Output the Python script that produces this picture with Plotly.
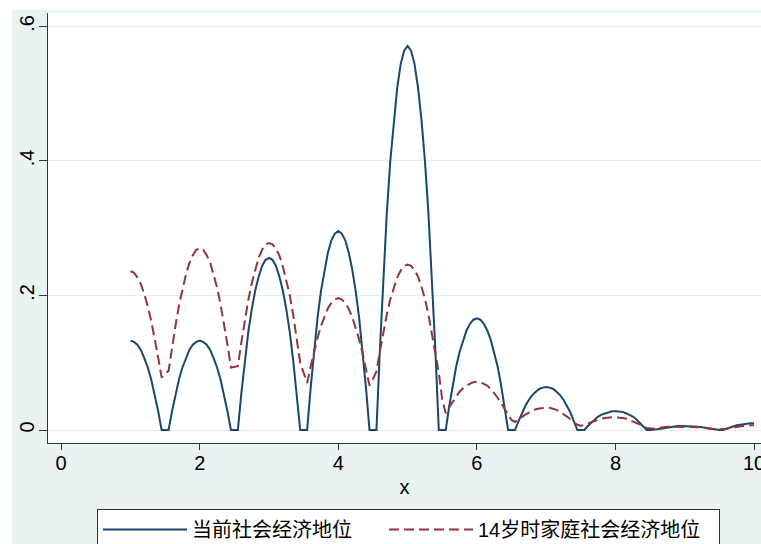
import plotly.graph_objects as go

# x grid (step 0.05 from 1 to 10)
x_vals = [round(1 + 0.05 * i, 2) for i in range(181)]

current_ses = [
    0.133, 0.131, 0.127, 0.119, 0.107, 0.093, 0.075, 0.053, 0.028, 0.0,
    0.0,
    0.0, 0.028, 0.053, 0.075, 0.093, 0.107, 0.119, 0.127, 0.131, 0.133, 0.131, 0.127, 0.119, 0.107, 0.093, 0.075, 0.053, 0.028, 0.0,
    0.0,
    0.0, 0.054, 0.102, 0.145, 0.179, 0.207, 0.228, 0.244, 0.253, 0.256, 0.253, 0.244, 0.228, 0.207, 0.179, 0.145, 0.102, 0.054, 0.0,
    0.0,
    0.0, 0.062, 0.118, 0.167, 0.207, 0.239, 0.264, 0.282, 0.292, 0.296, 0.292, 0.282, 0.264, 0.239, 0.207, 0.167, 0.118, 0.062, 0.0,
    0.0,
    0.0, 0.120, 0.228, 0.323, 0.400, 0.461, 0.509, 0.544, 0.564, 0.571, 0.564, 0.544, 0.509, 0.461, 0.400, 0.323, 0.228, 0.120, 0.0,
    0.0,
    0.0, 0.035, 0.066, 0.094, 0.116, 0.134, 0.148, 0.158, 0.164, 0.166, 0.164, 0.158, 0.148, 0.134, 0.116, 0.094, 0.066, 0.035, 0.0,
    0.0,
    0.0, 0.013, 0.026, 0.036, 0.045, 0.052, 0.057, 0.061, 0.063, 0.064, 0.063, 0.061, 0.057, 0.052, 0.045, 0.036, 0.026, 0.013, 0.0,
    0.0,
    0.0, 0.006, 0.011, 0.016, 0.020, 0.023, 0.025, 0.027, 0.028, 0.028, 0.028, 0.027, 0.025, 0.023, 0.020, 0.016, 0.011, 0.006, 0.0,
    0.0,
    0.0, 0.001, 0.002, 0.003, 0.004, 0.005, 0.005, 0.006, 0.006, 0.006, 0.006, 0.006, 0.005, 0.005, 0.004, 0.003, 0.002, 0.001, 0.0,
    0.0,
    0.0, 0.002, 0.004, 0.006, 0.007, 0.008, 0.009, 0.010, 0.010, 0.010,
]

age14_ses = [
    0.236, 0.234, 0.227, 0.217, 0.202, 0.184, 0.162, 0.136, 0.108, 0.078,
    0.084,
    0.088, 0.123, 0.155, 0.185, 0.210, 0.231, 0.248, 0.260, 0.268, 0.270, 0.268, 0.260, 0.249, 0.232, 0.212, 0.187, 0.158, 0.127, 0.093,
    0.094,
    0.095, 0.130, 0.163, 0.193, 0.218, 0.239, 0.256, 0.268, 0.276, 0.278, 0.276, 0.270, 0.259, 0.243, 0.223, 0.200, 0.170, 0.135, 0.100,
    0.085,
    0.070, 0.094, 0.117, 0.137, 0.155, 0.169, 0.181, 0.189, 0.194, 0.196, 0.194, 0.189, 0.180, 0.168, 0.153, 0.135, 0.114, 0.091, 0.066,
    0.076,
    0.087, 0.117, 0.146, 0.172, 0.194, 0.212, 0.227, 0.237, 0.244, 0.246, 0.244, 0.238, 0.228, 0.213, 0.195, 0.172, 0.145, 0.115, 0.085,
    0.045,
    0.025, 0.034, 0.042, 0.050, 0.057, 0.062, 0.066, 0.069, 0.071, 0.072, 0.071, 0.069, 0.066, 0.061, 0.055, 0.048, 0.040, 0.031, 0.022,
    0.015,
    0.012, 0.016, 0.020, 0.023, 0.026, 0.029, 0.031, 0.032, 0.033, 0.033, 0.033, 0.032, 0.030, 0.027, 0.024, 0.020, 0.016, 0.011, 0.008,
    0.006,
    0.008, 0.010, 0.012, 0.014, 0.016, 0.017, 0.018, 0.019, 0.019, 0.019, 0.019, 0.018, 0.017, 0.015, 0.013, 0.011, 0.008, 0.006, 0.003,
    0.002,
    0.002, 0.003, 0.004, 0.004, 0.005, 0.005, 0.005, 0.005, 0.005, 0.005, 0.005, 0.005, 0.005, 0.004, 0.004, 0.003, 0.002, 0.001, 0.001,
    0.001,
    0.001, 0.002, 0.003, 0.004, 0.005, 0.006, 0.006, 0.007, 0.007, 0.007,
]

series_names = ["当前社会经济地位", "14岁时家庭社会经济地位"]
x_ticks = [0, 2, 4, 6, 8, 10]
y_ticks = [0, 0.2, 0.4, 0.6]
y_tick_labels = ["0", ".2", ".4", ".6"]

FONT = "Liberation Sans, Arial, Noto Sans CJK SC, sans-serif"
BG = "#EAF2F3"

fig = go.Figure()
fig.add_trace(go.Scatter(x=x_vals, y=current_ses, mode="lines", name=series_names[0],
                         legendwidth=187,
                         line=dict(color="#1A476F", width=2)))
fig.add_trace(go.Scatter(x=x_vals, y=age14_ses, mode="lines", name=series_names[1],
                         legendwidth=236,
                         line=dict(color="#90353B", width=2, dash="10px,5px")))

W, H = 761, 544
ml, mr, mt, mb = 48, 0, 13, 101
pw, ph = W - ml - mr, H - mt - mb

def px_x(p):
    return (p - ml) / pw

def px_y(p):
    return (H - mb - p) / ph

fig.update_layout(
    width=W, height=H,
    margin=dict(l=ml, r=mr, t=mt, b=mb, pad=0, autoexpand=False),
    paper_bgcolor=BG, plot_bgcolor="white",
    font=dict(family=FONT, size=20, color="black"),
    showlegend=True,
    legend=dict(orientation="h", x=px_x(97), y=px_y(509), xanchor="left", yanchor="top",
                bgcolor="white", bordercolor="#333333", borderwidth=1,
                font=dict(family=FONT, size=20, color="black"),
                itemwidth=84, tracegroupgap=0),
    xaxis=dict(range=[-0.19, 10.1], tickvals=x_ticks, ticks="outside", ticklen=6,
               tickcolor="#333333", showline=True, linecolor="#333333", linewidth=1,
               showgrid=False, zeroline=False, automargin=False,
               ticklabeloverflow="allow", ticklabelstandoff=-4,
               tickfont=dict(size=20),
               title=dict(text="x", font=dict(size=20), standoff=6)),
    yaxis=dict(range=[-0.0193, 0.620], tickvals=y_ticks, ticktext=y_tick_labels,
               ticks="outside", ticklen=8, tickcolor="#333333", tickangle=-90,
               ticklabelstandoff=-3, ticklabeloverflow="allow",
               showline=True, linecolor="#333333", linewidth=1,
               showgrid=True, gridcolor="#E6EEEF", gridwidth=1.2,
               zeroline=False, automargin=False, tickfont=dict(size=20)),
    shapes=[
        dict(type="rect", xref="paper", yref="paper", x0=px_x(0), x1=px_x(W + 5),
             y0=px_y(10), y1=px_y(-5), fillcolor="white", line=dict(width=0), layer="above"),
        dict(type="rect", xref="paper", yref="paper", x0=px_x(-5), x1=px_x(12),
             y0=px_y(H + 5), y1=px_y(-5), fillcolor="white", line=dict(width=0), layer="above"),
    ],
)

fig.write_html(
    "out.html",
    config={"displayModeBar": False, "responsive": False},
    post_script="document.body.style.margin='0px';document.body.style.padding='0px';document.body.style.overflow='hidden';",
)
